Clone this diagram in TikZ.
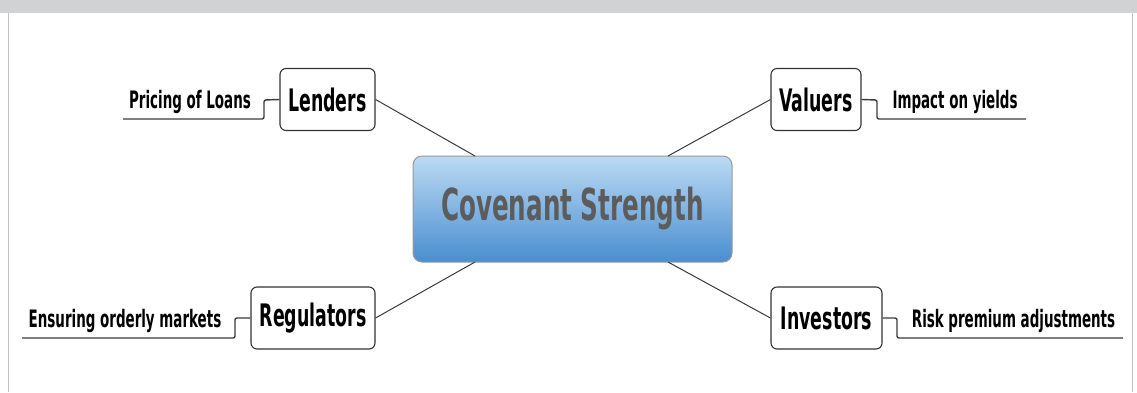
\documentclass[tikz,border=0pt]{standalone}
\usepackage{fontspec}
\setmainfont{DejaVu Sans}[FakeStretch=0.56]
\usetikzlibrary{positioning}
\definecolor{bannergrey}{HTML}{D1D2D4}
\definecolor{framegrey}{HTML}{C4C4C4}
\definecolor{linegrey}{HTML}{3A3A3A}
\definecolor{toptone}{HTML}{BBDAF3}
\definecolor{bottomtone}{HTML}{4A8ED0}
\definecolor{titlegrey}{HTML}{5C5C5C}
\tikzset{
  x=1pt, y=-1pt,
  mainbox/.style={draw=black!80, line width=1.1pt, rounded corners=6pt, fill=white,
    inner sep=0pt, minimum height=62pt, font=\fontsize{31}{31}\selectfont\bfseries},
  centerbox/.style={draw=gray!80, line width=1pt, rounded corners=9pt,
    top color=toptone, bottom color=bottomtone, inner sep=0pt,
    minimum width=319pt, minimum height=106pt, text=titlegrey,
    font=\fontsize{44}{44}\selectfont\bfseries},
  sublabel/.style={inner sep=0pt, anchor=base, font=\fontsize{24}{24}\selectfont\bfseries},
  spoke/.style={draw=linegrey, line width=1pt},
  branch/.style={draw=linegrey, line width=1.4pt, rounded corners=2pt},
}
\begin{document}
\begin{tikzpicture}
\useasboundingbox (0,0) rectangle (1137,392);
% frame
\fill[bannergrey] (0,0) rectangle (1137,13);
\draw[framegrey, line width=1.5pt] (8.5,13) -- (8.5,392);
\draw[framegrey, line width=1.5pt] (1132.5,13) -- (1132.5,392);

% central node
\node[centerbox] (center) at (572.5,209) {Covenant Strength};

% main nodes
\node[mainbox, minimum width=95pt] (lenders) at (327.5,99.5) {Lenders};
\node[mainbox, minimum width=90pt] (valuers) at (816,99.5) {Valuers};
\node[mainbox, minimum width=124pt] (regulators) at (313,318) {Regulators};
\node[mainbox, minimum width=111pt] (investors) at (826.5,318) {Investors};

% spokes
\coordinate (ctl) at (475,156);
\coordinate (ctr) at (668,156);
\coordinate (cbl) at (475,262);
\coordinate (cbr) at (668,262);
\draw[spoke] (lenders.east) -- (ctl);
\draw[spoke] (valuers.west) -- (ctr);
\draw[spoke] (regulators.east) -- (cbl);
\draw[spoke] (investors.west) -- (cbr);

% sub labels
\node[sublabel] (pricing) at (190,108.5) {Pricing of Loans};
\node[sublabel] (impact) at (955,108.5) {Impact on yields};
\node[sublabel] (ensuring) at (125,327.5) {Ensuring orderly markets};
\node[sublabel] (risk) at (1013.5,327.5) {Risk premium adjustments};

% underline branches
\coordinate (p1) at (123,119);
\coordinate (p2) at (264,119);
\draw[branch] (p1) -- (p2) -- (264,100) -- (lenders.west);
\coordinate (v2) at (1026,119);
\draw[branch] (valuers.east) -- (877,100) -- (877,119) -- (v2);
\coordinate (e1) at (22,338);
\draw[branch] (e1) -- (235,338) -- (235,318) -- (regulators.west);
\coordinate (r2) at (1123,338);
\draw[branch] (investors.east) -- (897,318) -- (897,338) -- (r2);
\end{tikzpicture}
\end{document}
